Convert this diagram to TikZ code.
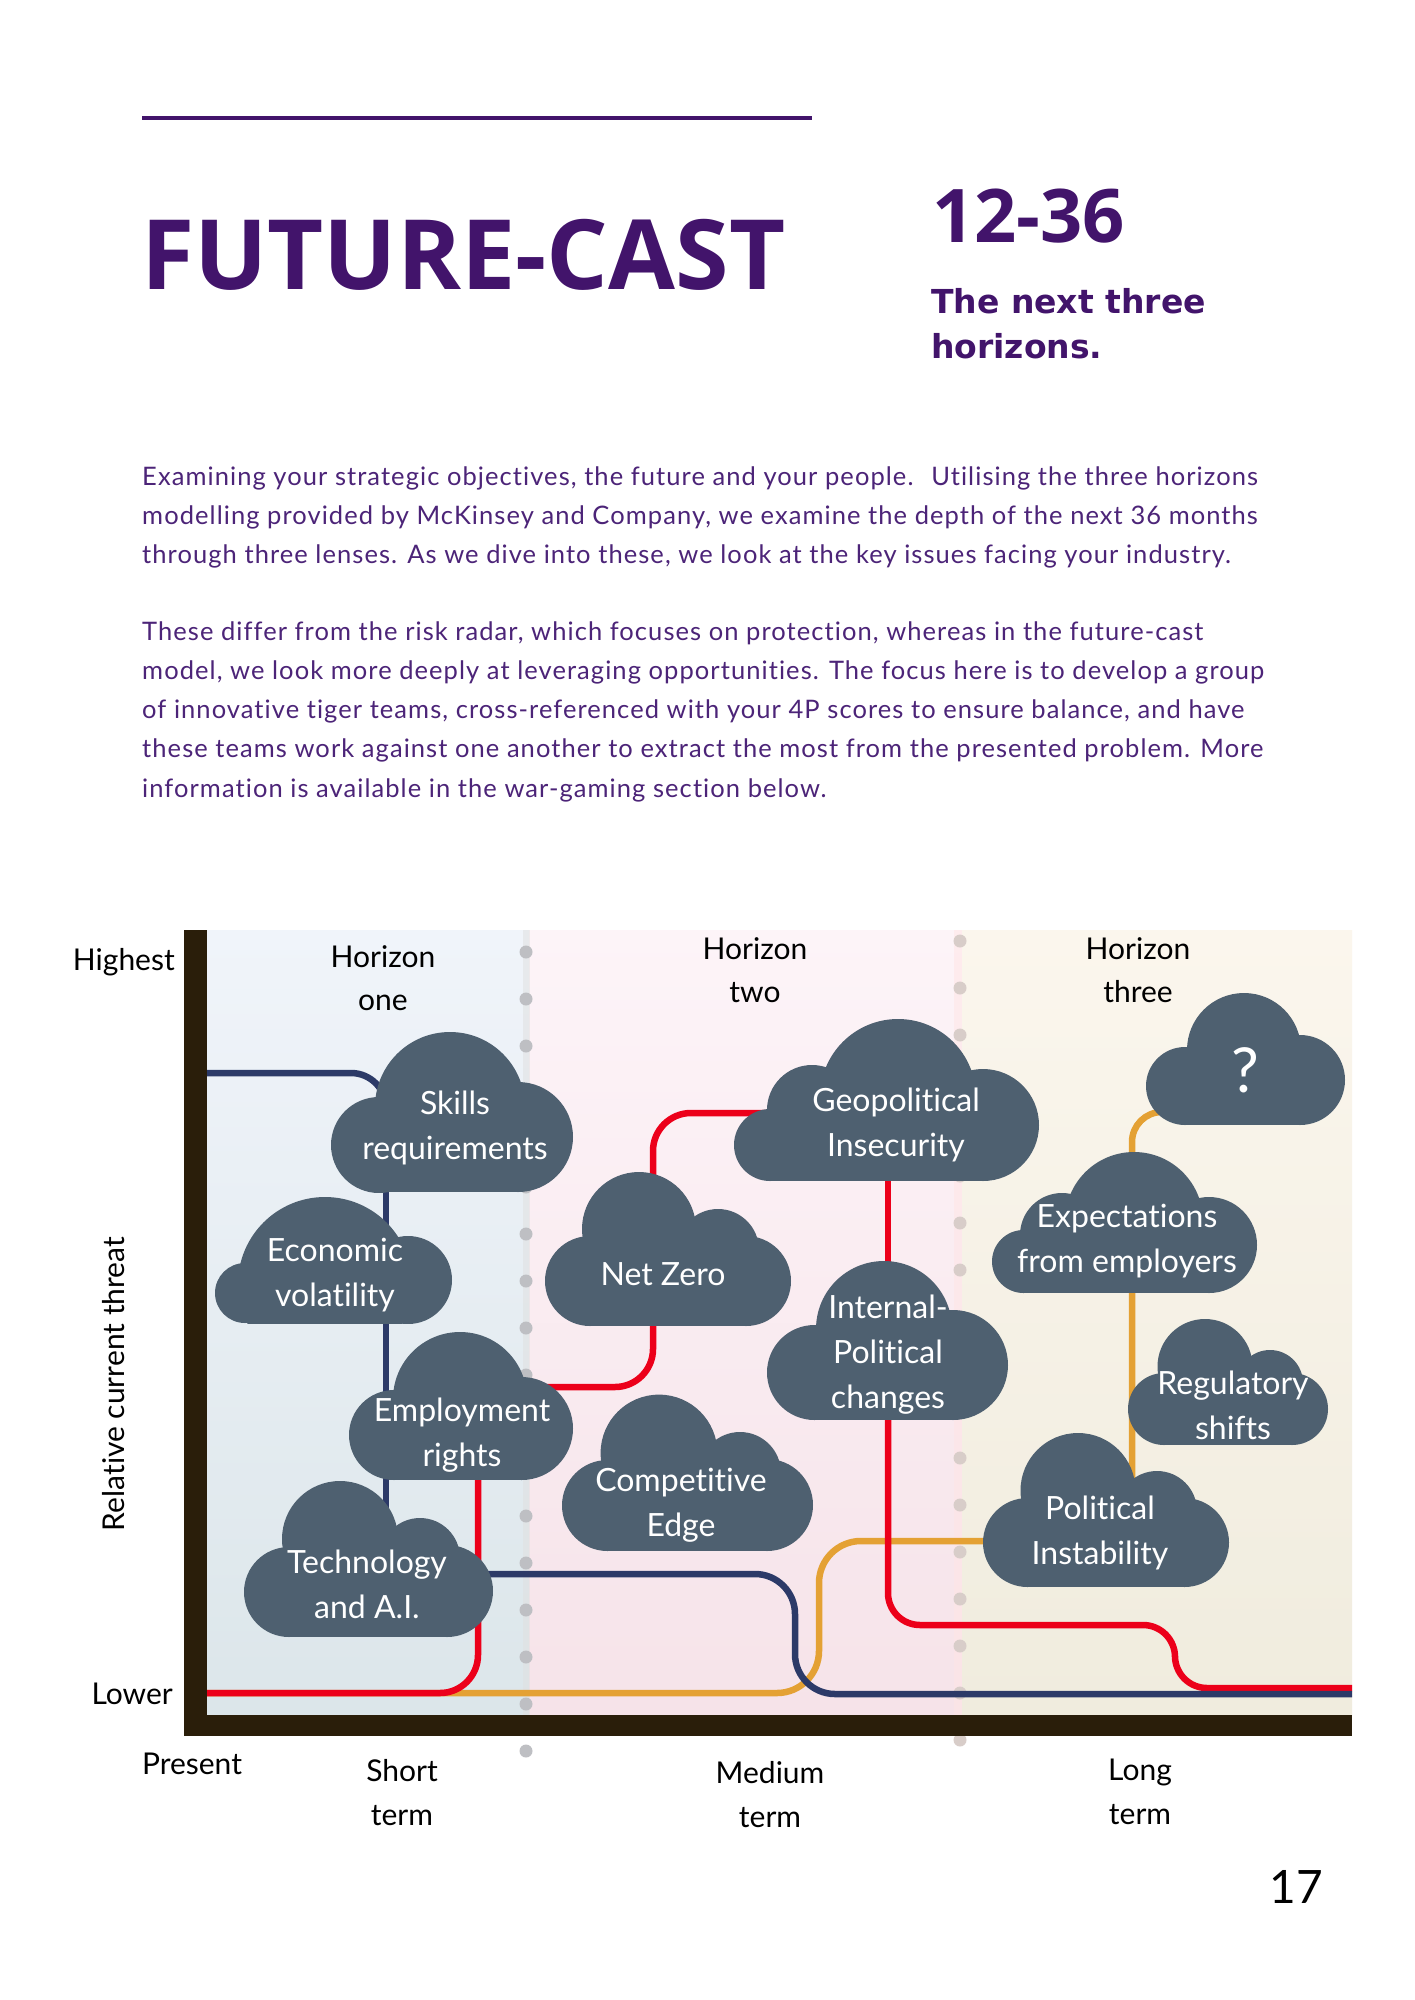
\documentclass[tikz,border=0pt]{standalone}
\usepackage{fontspec}
\setmainfont[Ligatures=NoCommon]{Lato}
\newfontfamily\headfont{Open Sans}
\newfontfamily\subfont{DejaVu Sans}
\newfontfamily\bodyfont[LetterSpace=4.2,Ligatures=NoCommon]{Lato}
\usetikzlibrary{calc}
\pgfdeclarelayer{bglayer}
\pgfdeclarelayer{linelayer}
\pgfdeclarelayer{cloudlayer}
\pgfsetlayers{bglayer,linelayer,cloudlayer,main}
\definecolor{purp}{RGB}{66,20,107}
\definecolor{bodyp}{RGB}{76,36,120}
\definecolor{cloudc}{RGB}{78,96,112}
\definecolor{axisc}{RGB}{42,30,10}
\definecolor{lblue}{RGB}{44,58,104}
\definecolor{lred}{RGB}{236,0,26}
\definecolor{lorange}{RGB}{228,161,52}
\definecolor{zat}{RGB}{240,244,250}
\definecolor{zab}{RGB}{220,230,234}
\definecolor{zbt}{RGB}{253,244,248}
\definecolor{zbb}{RGB}{246,227,233}
\definecolor{zct}{RGB}{251,246,237}
\definecolor{zcb}{RGB}{240,236,222}
\definecolor{dota}{RGB}{190,191,195}
\definecolor{dotb}{RGB}{216,205,201}
\newcommand{\cloudcirc}[3]{\fill[cloudc] (#1,#2) circle[radius=#3pt];}
\newcommand{\cloudrect}[4]{\fill[cloudc] (#1,#2) rectangle (#3,#4);}
\newcommand{\cloudshape}[2]{%
  \begin{pgfonlayer}{cloudlayer}
    \begin{scope}
      \clip (0,0) rectangle (1414,#1);
      #2
    \end{scope}
  \end{pgfonlayer}}
\newcommand{\tstrut}{\rule{0pt}{25pt}}
\newcommand{\bstrut}{\rule[-8pt]{0pt}{8pt}}
\begin{document}
\begin{tikzpicture}[x=1pt,y=-1pt,
  cloudtxt/.style={text=white, font=\fontsize{32}{45}\selectfont, align=center, inner sep=0pt, anchor=north},
  axistxt/.style={text=black, font=\fontsize{30}{43}\selectfont, align=center, inner sep=0pt},
  termtxt/.style={text=black, font=\fontsize{30}{44}\selectfont, align=center, inner sep=0pt, anchor=north},
  bluel/.style={draw=lblue, line width=6.5pt},
  redl/.style={draw=lred, line width=6.5pt},
  orangel/.style={draw=lorange, line width=6.5pt},
]
\useasboundingbox (0,0) rectangle (1414,2000);
\begin{pgfonlayer}{bglayer}
  \fill[white] (0,0) rectangle (1414,2000);
  % horizon zones
  \shade[top color=zat, bottom color=zab] (207,930) rectangle (529,1715);
  \shade[top color=zbt, bottom color=zbb] (529,930) rectangle (962,1715);
  \shade[top color=zct, bottom color=zcb] (962,930) rectangle (1352,1715);
  \fill[black!12, opacity=0.5] (523,930) rectangle (530,1715);
  \fill[pink!40, opacity=0.5] (954,930) rectangle (962,1715);
  % dotted dividers
  \foreach \k in {0,...,17} {
    \fill[dota] (526,{952+47*\k}) circle[radius=6.5pt];
    \fill[dotb] (960,{941+47*\k}) circle[radius=6.5pt];
  }
  % axes
  \fill[axisc] (184,930) rectangle (207,1736);
  \fill[axisc] (184,1715) rectangle (1352,1736);
  % header rule
  \draw[purp, line width=3.5pt] (142,118) -- (812,118);
\end{pgfonlayer}

% ---------- header ----------
\node[anchor=base west, inner sep=0pt, text=purp, font=\headfont\bfseries\fontsize{97}{100}\selectfont] (title) at (141,289) {FUTURE-CAST};
\node[anchor=base west, inner sep=0pt, text=purp, font=\headfont\bfseries\fontsize{74}{80}\selectfont] (range) at (932,242) {12-36};
\node[anchor=north west, inner sep=0pt, align=left, text=purp, font=\subfont\bfseries\fontsize{33}{45}\selectfont] (sub) at (931,286) {\rule{0pt}{27pt}The next three\\horizons.};

\node[anchor=north west, inner sep=0pt, align=left, text=bodyp, font=\bodyfont\fontsize{25.5}{39.2}\selectfont] (para1) at (142,464) {\rule{0pt}{21pt}Examining your strategic objectives, the future and your people.~ Utilising the three horizons\\modelling provided by McKinsey and Company, we examine the depth of the next 36 months\\through three lenses. As we dive into these, we look at the key issues facing your industry.};
\node[anchor=north west, inner sep=0pt, align=left, text=bodyp, font=\bodyfont\fontsize{25.5}{39.2}\selectfont] (para2) at (142,619) {\rule{0pt}{21pt}These differ from the risk radar, which focuses on protection, whereas in the future-cast\\model, we look more deeply at leveraging opportunities. The focus here is to develop a group\\of innovative tiger teams, cross-referenced with your 4P scores to ensure balance, and have\\these teams work against one another to extract the most from the presented problem. More\\information is available in the war-gaming section below.};

% ---------- axis labels ----------
\node[axistxt, anchor=base east] (highest) at (175,970) {Highest};
\node[axistxt, anchor=base east] (lower) at (173,1704) {Lower};
\node[axistxt, rotate=90] (ylabel) at (114,1384) {Relative current threat};
\node[axistxt, anchor=base] (present) at (192,1774) {Present};
\node[termtxt] (short) at (402,1756) {\tstrut Short\\term};
\node[termtxt] (medium) at (770,1758) {\tstrut Medium\\term};
\node[termtxt] (long) at (1140,1755) {\tstrut Long\\term};
\node[axistxt, anchor=north] (hone) at (383,942) {\tstrut Horizon\\one};
\node[axistxt, anchor=north] (htwo) at (755,934) {\tstrut Horizon\\two};
\node[axistxt, anchor=north] (hthree) at (1138,934) {\tstrut Horizon\\three};
\node[anchor=base, inner sep=0pt, font=\fontsize{46}{50}\selectfont] (pageno) at (1296,1903) {17};

% ---------- clouds ----------
\cloudshape{1192}{\cloudcirc{379}{1145}{48}\cloudcirc{450}{1107}{75}\cloudcirc{518}{1137}{55}\cloudrect{379}{1101}{518}{1192}}
\cloudshape{1323}{\cloudcirc{245}{1293}{30}\cloudcirc{325}{1284}{87}\cloudcirc{408}{1280}{44}\cloudrect{245}{1267}{408}{1323}}
\cloudshape{1480}{\cloudcirc{394}{1435}{45}\cloudcirc{460}{1399}{67}\cloudcirc{521.5}{1428.5}{51.5}\cloudrect{394}{1394}{521.5}{1480}}
\cloudshape{1637}{\cloudcirc{289}{1592}{45}\cloudcirc{340}{1539}{58}\cloudcirc{420}{1558}{40}\cloudcirc{447}{1591}{46}\cloudrect{289}{1551}{447}{1637}}
\cloudshape{1326}{\cloudcirc{590}{1281}{45}\cloudcirc{639}{1229}{57}\cloudcirc{718}{1250}{41}\cloudcirc{746}{1281}{45}\cloudrect{590}{1240}{746}{1326}}
\cloudshape{1181}{\cloudcirc{770}{1145}{36}\cloudcirc{812}{1110}{45}\cloudcirc{898}{1097}{78}\cloudcirc{983}{1125}{56}\cloudrect{770}{1113}{983}{1181}}
\cloudshape{1420}{\cloudcirc{814.5}{1372.5}{47.5}\cloudcirc{884}{1329}{68}\cloudcirc{953}{1365}{55}\cloudrect{814.5}{1329}{953}{1420}}
\cloudshape{1551}{\cloudcirc{607.5}{1505.5}{45.5}\cloudcirc{659}{1453}{58.4}\cloudcirc{740}{1473}{41}\cloudcirc{767}{1505}{46}\cloudrect{607.5}{1464}{767}{1551}}
\cloudshape{1587}{\cloudcirc{1027.5}{1542.5}{44.5}\cloudcirc{1078}{1490.5}{57.5}\cloudcirc{1157}{1511}{40}\cloudcirc{1184.5}{1542.5}{44.5}\cloudrect{1027.5}{1502}{1184.5}{1587}}
\cloudshape{1445}{\cloudcirc{1164}{1409}{36}\cloudcirc{1205}{1366.5}{47.5}\cloudcirc{1270}{1383}{33}\cloudcirc{1292}{1409}{36}\cloudrect{1164}{1377}{1292}{1445}}
\cloudshape{1293}{\cloudcirc{1023.5}{1261.5}{31.5}\cloudcirc{1062}{1235}{42}\cloudcirc{1134}{1221}{69}\cloudcirc{1209}{1245}{48}\cloudrect{1023.5}{1234}{1209}{1293}}
\cloudshape{1125}{\cloudcirc{1185}{1086}{39}\cloudcirc{1244}{1050}{57}\cloudcirc{1300}{1080}{45}\cloudrect{1185}{1051}{1300}{1125}}

% ---------- cloud labels ----------
\node[cloudtxt] (skills) at (455,1089.5) {\tstrut Skills\\requirements\bstrut};
\node[cloudtxt] (econ) at (335,1236.5) {\tstrut Economic\\volatility\bstrut};
\node[cloudtxt] (employ) at (462,1396.5) {\tstrut Employment\\rights\bstrut};
\node[cloudtxt] (tech) at (367,1548.5) {\tstrut Technology\\and A.I.\bstrut};
\node[cloudtxt] (netzero) at (663,1260.5) {\tstrut Net Zero\bstrut};
\node[cloudtxt] (geo) at (896,1086.5) {\tstrut Geopolitical\\Insecurity\bstrut};
\node[cloudtxt] (internal) at (888,1293.5) {\tstrut Internal-\\Political\\changes\bstrut};
\node[cloudtxt] (compet) at (681,1466.5) {\tstrut Competitive\\Edge\bstrut};
\node[cloudtxt] (polinst) at (1100,1494.5) {\tstrut Political\\Instability\bstrut};
\node[cloudtxt] (regul) at (1233,1369.5) {\tstrut Regulatory\\shifts\bstrut};
\node[cloudtxt] (expect) at (1127,1202.5) {\tstrut Expectations\\from employers\bstrut};
\node[text=white, inner sep=0pt, font=\fontsize{62}{64}\selectfont] (quest) at (1245,1070) {?};

% ---------- connectors ----------
\coordinate (blueStart) at (207,1073);
\coordinate (blueEnd) at (1352,1694);
\coordinate (redStart) at (207,1693);
\coordinate (redEnd) at (1352,1688);
\coordinate (orStart) at (207,1693);
\begin{pgfonlayer}{linelayer}
  % orange
  \draw[orangel, rounded corners=42pt] (orStart) -- (819,1693) -- (819,1541) -- ($(polinst.north)+(0,46.5)$);
  \draw[orangel, rounded corners=30pt] ($(polinst.north)+(32,0)$) |- ($(quest)+(0,42)$);
  % red
  \draw[redl, rounded corners=38pt] (redStart) -| ($(employ.north)+(16,40)$);
  \draw[redl, rounded corners=38pt] ($(employ.north)+(16,-9.5)$) -| ($(netzero.north)+(-10,20)$);
  \draw[redl, rounded corners=38pt] ($(netzero.north)+(-10,20)$) |- ($(geo.north)+(0,26.5)$);
  \draw[redl] ($(geo.north)+(-8,40)$) -- ($(internal.north)+(0,50)$);
  \draw[redl, rounded corners=32pt] ($(internal.north)+(0,50)$) -- (888,1625) -- (1175,1625) -- (1175,1688) -- (redEnd);
  % blue
  \draw[bluel, rounded corners=35pt] (blueStart) -| ($(skills.north)+(-69,40)$);
  \draw[bluel] ($(skills.north)+(-69,40)$) -- ($(econ.north)+(51,40)$);
  \draw[bluel] ($(econ.north)+(51,40)$) -- ($(employ.north)+(-76,40)$);
  \draw[bluel] ($(employ.north)+(-76,40)$) -- ($(tech.north)+(19,25.5)$);
  \draw[bluel, rounded corners=40pt] ($(tech.north)+(19,25.5)$) -- (795,1574) -- (795,1694) -- (blueEnd);
\end{pgfonlayer}
\end{tikzpicture}
\end{document}
